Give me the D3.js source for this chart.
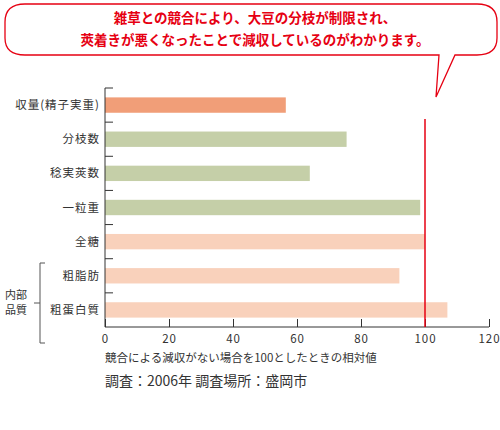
<!DOCTYPE html><html><head><meta charset="utf-8"><script src="https://cdn.jsdelivr.net/npm/d3@7"></script>
<style>body{margin:0;background:#fff}text{font-family:"Noto Sans CJK JP",sans-serif}</style></head><body>
<svg id="c" width="500" height="430"></svg>
<script>
const categories=["収量(精子実重)","分枝数","稔実莢数","一粒重","全糖","粗脂肪","粗蛋白質"];
const values=[56.5,75.5,64,98.5,100,92,107];
const groups=["yield","green","green","green","pink","pink","pink"];
const xTicks=[0,20,40,60,80,100,120];
const colors={yield:"#f19e78",green:"#c5cfa8",pink:"#f9d1bb"};
const svg=d3.select("#c");
const x=d3.scaleLinear().domain([0,120]).range([105,489]);
const y=d3.scaleBand().domain(categories).range([88,327]).paddingInner(0.55).paddingOuter(0.275);
svg.append("path").attr("d","M25,4 H477 Q497,4 497,22 V38 Q497,55 477,55 H455 L436,97 L439,55 H25 Q5,55 5,38 V22 Q5,4 25,4 Z")
 .attr("fill","#fff").attr("stroke","#e60012").attr("stroke-width",1.3);
svg.append("text").attr("x",255).attr("y",23).attr("text-anchor","middle").attr("fill","#e60012").attr("font-size",13.5).attr("font-weight","bold").text("雑草との競合により、大豆の分枝が制限され、");
svg.append("text").attr("x",255).attr("y",45).attr("text-anchor","middle").attr("fill","#e60012").attr("font-size",13.5).attr("font-weight","bold").text("莢着きが悪くなったことで減収しているのがわかります。");
svg.selectAll("rect.b").data(categories).enter().append("rect")
 .attr("x",x(0)).attr("y",d=>y(d)).attr("height",y.bandwidth())
 .attr("width",(d,i)=>x(values[i])-x(0)).attr("fill",(d,i)=>colors[groups[i]]);
svg.append("line").attr("x1",105).attr("x2",105).attr("y1",88).attr("y2",327).attr("stroke","#333");
const step=y.step();
d3.range(7).forEach(i=>svg.append("line").attr("x1",105).attr("x2",113).attr("y1",88+i*step).attr("y2",88+i*step).attr("stroke","#333"));
svg.selectAll("text.yl").data(categories).enter().append("text")
 .attr("x",100).attr("y",d=>y(d)+y.bandwidth()/2+4).attr("text-anchor","end").attr("font-size",11.5).attr("letter-spacing",1).attr("fill","#333").text(d=>d);
const xa=svg.append("g").attr("transform","translate(0,327)").call(d3.axisBottom(x).tickValues(xTicks).tickSize(-8).tickPadding(6));
xa.select(".domain").attr("stroke","#333").attr("d","M105,0H489");
xa.selectAll(".tick line").attr("stroke","#333");
xa.selectAll(".tick text").attr("font-size",11.5).attr("fill","#333").attr("dy","0.9em").attr("letter-spacing",1).attr("font-family","Noto Sans CJK JP");
svg.append("line").attr("x1",x(100)).attr("x2",x(100)).attr("y1",119).attr("y2",327).attr("stroke","#e60012").attr("stroke-width",1.5);
svg.append("path").attr("d","M45,263 H40 V343 H45 M34,303 H40").attr("fill","none").attr("stroke","#555");
svg.append("text").attr("x",16).attr("y",299).attr("text-anchor","middle").attr("font-size",11).attr("fill","#333").text("内部");
svg.append("text").attr("x",16).attr("y",314).attr("text-anchor","middle").attr("font-size",11).attr("fill","#333").text("品質");
svg.append("text").attr("x",105).attr("y",362).attr("font-size",11.5).attr("fill","#333").text("競合による減収がない場合を100としたときの相対値");
svg.append("text").attr("x",105).attr("y",386).attr("font-size",14).attr("fill","#333").text("調査：2006年 調査場所：盛岡市");
</script></body></html>
